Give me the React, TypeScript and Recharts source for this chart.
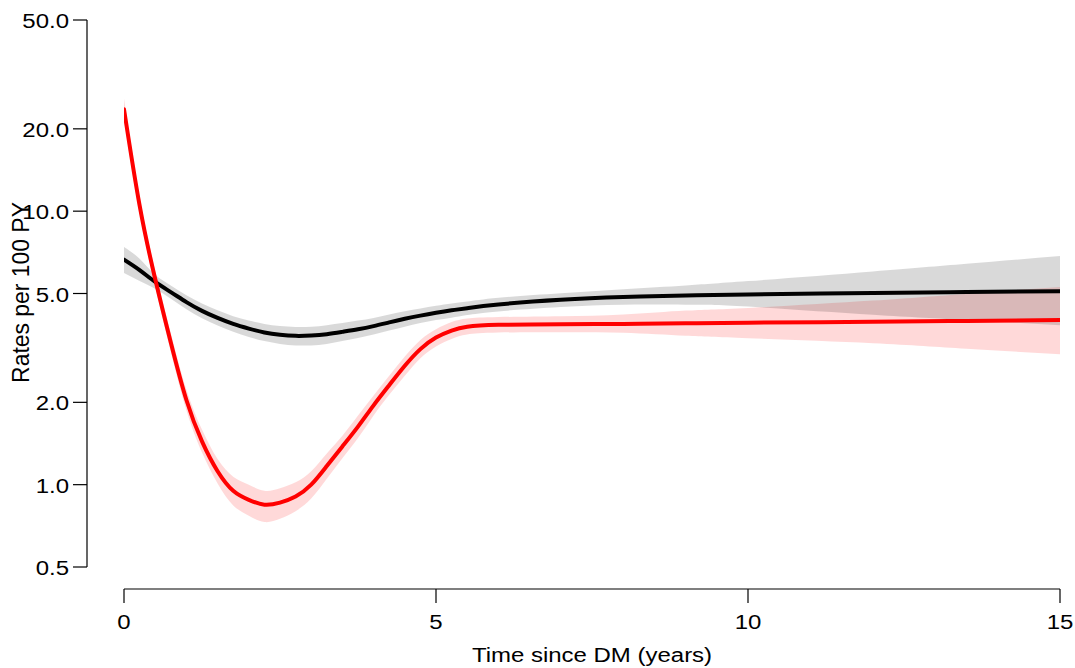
import { ComposedChart, Area, Line, XAxis, YAxis, Label } from "recharts";

const FONT = "'Liberation Sans', Arial, Helvetica, sans-serif";
const FS = 19.5;
const SX = 1.23; // text in the reference is drawn a little wide

const X_PAD = 37; // gap between y axis line and x = 0
const Y_PAD = 22; // gap between x axis line and y = 0.5

const X_TICKS = [0, 5, 10, 15];
const Y_TICKS = [0.5, 1, 2, 5, 10, 20, 50];

const TIMES = [
  0, 0.25, 0.5, 0.75, 1, 1.25, 1.5, 1.75, 2, 2.25, 2.5, 2.75, 3, 3.25, 3.5, 3.75,
  4, 4.25, 4.5, 4.75, 5, 5.25, 5.5, 6, 7, 8, 9, 10, 12, 13.5, 15,
];

// red group
const RED_RATE = [
  23.6, 10.5, 5.65, 3.31, 2.04, 1.44, 1.12, 0.95, 0.88, 0.845, 0.86, 0.905, 1.0, 1.17, 1.38, 1.63,
  1.95, 2.31, 2.72, 3.13, 3.45, 3.66, 3.78, 3.84, 3.86, 3.87, 3.89, 3.91, 3.94, 3.97, 4.0,
];
const RED_LO = [
  21.6, 9.8, 5.28, 3.06, 1.87, 1.31, 1.01, 0.84, 0.77, 0.73, 0.75, 0.8, 0.89, 1.05, 1.25, 1.48,
  1.79, 2.13, 2.5, 2.9, 3.2, 3.41, 3.54, 3.6, 3.61, 3.59, 3.5, 3.43, 3.29, 3.14, 3.0,
];
const RED_HI = [
  25.8, 11.3, 6.05, 3.58, 2.23, 1.59, 1.24, 1.07, 1.0, 0.95, 0.97, 1.02, 1.12, 1.3, 1.51, 1.79,
  2.12, 2.5, 2.94, 3.38, 3.7, 3.93, 4.05, 4.1, 4.13, 4.19, 4.33, 4.43, 4.71, 4.99, 5.28,
];

// black group
const BLACK_RATE = [
  6.65, 6.09, 5.51, 5.06, 4.65, 4.32, 4.07, 3.87, 3.72, 3.6, 3.53, 3.5, 3.51, 3.55, 3.62, 3.7,
  3.8, 3.92, 4.04, 4.15, 4.25, 4.34, 4.42, 4.56, 4.74, 4.85, 4.92, 4.96, 5.02, 5.06, 5.1,
];
const BLACK_LO = [
  5.94, 5.55, 5.2, 4.78, 4.38, 4.06, 3.82, 3.62, 3.47, 3.35, 3.27, 3.23, 3.23, 3.27, 3.35, 3.44,
  3.54, 3.66, 3.78, 3.9, 4.0, 4.08, 4.17, 4.3, 4.46, 4.55, 4.55, 4.48, 4.18, 4.0, 3.83,
];
const BLACK_HI = [
  7.4, 6.7, 5.85, 5.35, 4.93, 4.6, 4.34, 4.13, 3.98, 3.87, 3.8, 3.77, 3.78, 3.83, 3.9, 3.98,
  4.07, 4.19, 4.31, 4.41, 4.51, 4.6, 4.67, 4.82, 5.01, 5.18, 5.35, 5.55, 6.02, 6.42, 6.86,
];

const data = TIMES.map((t, i) => ({
  t,
  red: RED_RATE[i],
  redBand: [RED_LO[i], RED_HI[i]],
  black: BLACK_RATE[i],
  blackBand: [BLACK_LO[i], BLACK_HI[i]],
}));

// eslint-disable-next-line @typescript-eslint/no-explicit-any
function XTick({ x, y, payload }: any) {
  return (
    <text
      transform={`translate(${x},${y + 15.5}) scale(${SX},1)`}
      textAnchor="middle"
      fontSize={FS}
      fontFamily={FONT}
      fill="#000"
    >
      {payload.value}
    </text>
  );
}

// eslint-disable-next-line @typescript-eslint/no-explicit-any
function YTick({ x, y, payload }: any) {
  return (
    <text
      transform={`translate(${x},${y + 8}) scale(${SX},1)`}
      textAnchor="end"
      fontSize={FS}
      fontFamily={FONT}
      fill="#000"
    >
      {Number(payload.value).toFixed(1)}
    </text>
  );
}

// eslint-disable-next-line @typescript-eslint/no-explicit-any
function XTitle({ viewBox }: any) {
  const cx = viewBox.x + X_PAD + (viewBox.width - X_PAD) / 2;
  const cy = viewBox.y + 73;
  return (
    <text
      transform={`translate(${cx},${cy}) scale(${SX},1)`}
      textAnchor="middle"
      fontSize={FS}
      fontFamily={FONT}
      fill="#000"
    >
      Time since DM (years)
    </text>
  );
}

// eslint-disable-next-line @typescript-eslint/no-explicit-any
function YTitle({ viewBox }: any) {
  const cx = viewBox.x + 29.3;
  const cy = viewBox.y + (viewBox.height - Y_PAD) / 2 - 1;
  return (
    <text
      transform={`translate(${cx},${cy}) scale(1.26,1.175) rotate(-90)`}
      textAnchor="middle"
      fontSize={FS}
      fontFamily={FONT}
      fill="#000"
    >
      Rates per 100 PY
    </text>
  );
}

export default function App() {
  return (
    <div style={{ position: "absolute", left: 0, top: 0, width: 1075, height: 668, fontFamily: FONT }}>
      <ComposedChart
        width={1075}
        height={668}
        data={data}
        margin={{ top: 20, right: 15, bottom: 0, left: 0 }}
      >
        <XAxis
          dataKey="t"
          type="number"
          domain={[0, 15]}
          ticks={X_TICKS}
          allowDataOverflow
          padding={{ left: X_PAD, right: 0 }}
          height={79}
          tickSize={14}
          tickMargin={10}
          axisLine={{ stroke: "#000", strokeWidth: 1.2, strokeDasharray: `0 ${X_PAD} 936 200` }}
          tickLine={{ stroke: "#000", strokeWidth: 1.2 }}
          tick={<XTick />}
        >
          <Label content={<XTitle />} />
        </XAxis>
        <YAxis
          type="number"
          scale="log"
          domain={[0.5, 50]}
          ticks={Y_TICKS}
          allowDataOverflow
          padding={{ top: 0, bottom: Y_PAD }}
          width={87}
          tickSize={14}
          tickMargin={4}
          axisLine={{ stroke: "#000", strokeWidth: 1.2, strokeDasharray: "547 200" }}
          tickLine={{ stroke: "#000", strokeWidth: 1.2 }}
          tick={<YTick />}
        >
          <Label content={<YTitle />} />
        </YAxis>
        <Area
          dataKey="redBand"
          type="natural"
          stroke="none"
          fill="#ff0000"
          fillOpacity={0.15}
          isAnimationActive={false}
        />
        <Area
          dataKey="blackBand"
          type="natural"
          stroke="none"
          fill="#000000"
          fillOpacity={0.15}
          isAnimationActive={false}
        />
        <Line
          dataKey="black"
          type="natural"
          stroke="#000000"
          strokeWidth={4}
          strokeLinecap="round"
          dot={false}
          isAnimationActive={false}
        />
        <Line
          dataKey="red"
          type="natural"
          stroke="#ff0000"
          strokeWidth={4}
          strokeLinecap="round"
          dot={false}
          isAnimationActive={false}
        />
      </ComposedChart>
    </div>
  );
}
